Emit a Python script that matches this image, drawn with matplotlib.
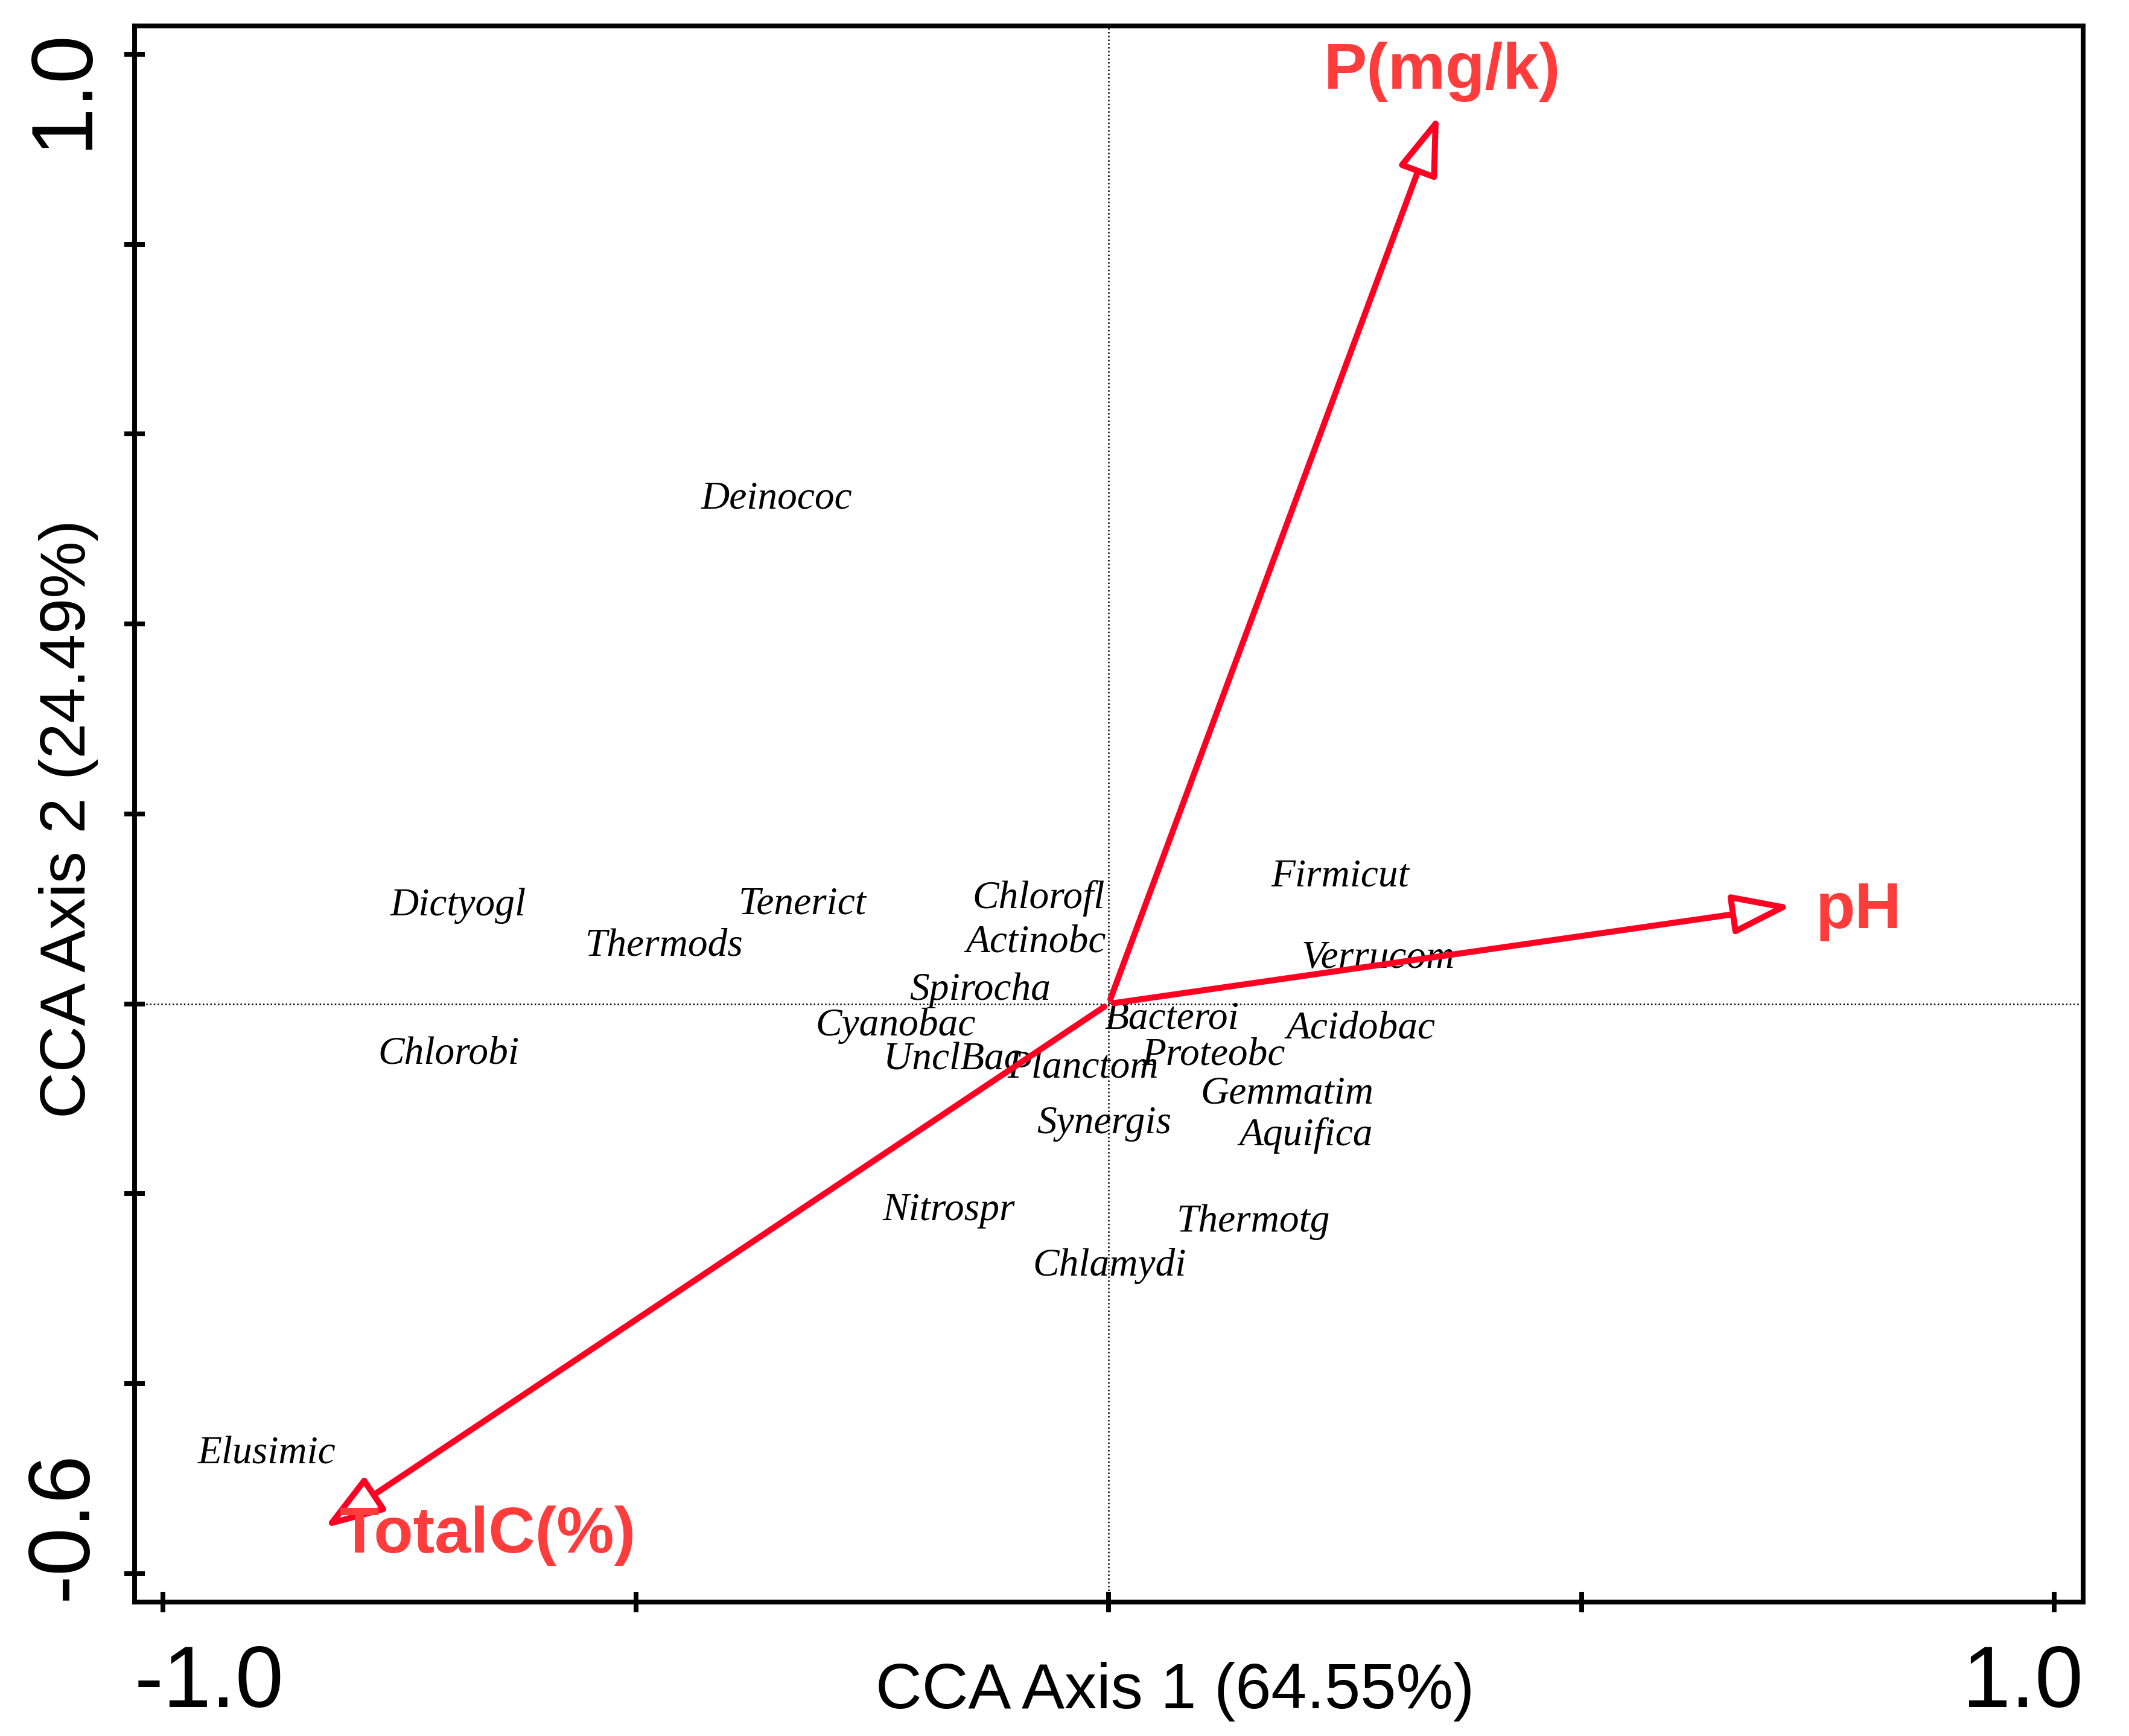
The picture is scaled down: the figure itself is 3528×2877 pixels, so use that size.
import matplotlib
matplotlib.use('Agg')
import matplotlib.pyplot as plt
from matplotlib.patches import FancyArrowPatch

# species (label positions, CCA axis 1 / axis 2)
species = ['Deinococ', 'Dictyogl', 'Tenerict', 'Thermods', 'Chlorofl', 'Actinobc',
           'Spirocha', 'Firmicut', 'Verrucom', 'Cyanobac', 'Bacteroi', 'Acidobac',
           'UnclBac', 'Planctom', 'Proteobc', 'Gemmatim', 'Synergis', 'Aquifica',
           'Nitrospr', 'Thermotg', 'Chlamydi', 'Chlorobi', 'Elusimic']
sp_x = [-0.351, -0.688, -0.324, -0.470, -0.074, -0.077,
        -0.136, 0.245, 0.285, -0.225, 0.067, 0.267,
        -0.165, -0.027, 0.111, 0.189, -0.005, 0.209,
        -0.169, 0.153, 0.001, -0.698, -0.890]
sp_y = [0.522, 0.093, 0.095, 0.051, 0.101, 0.055,
        0.004, 0.124, 0.038, -0.033, -0.026, -0.036,
        -0.069, -0.078, -0.064, -0.105, -0.136, -0.149,
        -0.228, -0.240, -0.286, -0.063, -0.484]

# environmental variables (arrow tips)
env = ['P(mg/k)', 'pH', 'TotalC(%)']
env_x = [0.351, 0.728, -0.834]
env_y = [0.941, 0.104, -0.555]

x_ticks = [-1.0, -0.5, 0.0, 0.5, 1.0]
y_ticks = [-0.6, -0.4, -0.2, 0.0, 0.2, 0.4, 0.6, 0.8, 1.0]

arrow_col = '#ff0022'
label_col = '#ff3c3c'

fig = plt.figure(figsize=(11.76, 9.59), dpi=300)
ax = fig.add_axes([0.0632, 0.0772, 0.9153, 0.9079])
ax.set_xlim(-1.030, 1.0306)
ax.set_ylim(-0.6299, 1.0299)

for s in ax.spines.values():
    s.set_linewidth(1.9)
ax.set_xticks(x_ticks)
ax.set_yticks(y_ticks)
ax.tick_params(direction='inout', length=8, width=1.9, labelbottom=False, labelleft=False)

# dotted zero lines
ax.axhline(0, color='black', lw=0.6, ls=(0, (1, 1.5)), zorder=1)
ax.axvline(0, color='black', lw=0.6, ls=(0, (1, 1.5)), zorder=1)

# species labels
for name, x, y in zip(species, sp_x, sp_y):
    ax.text(x, y, name, family='Liberation Serif', style='italic', fontsize=15.7,
            ha='center', va='baseline', zorder=3)

# arrows with open heads
for x, y in zip(env_x, env_y):
    arr = FancyArrowPatch((0, 0), (x, y),
                          arrowstyle='-|>,head_length=1.0,head_width=0.34',
                          mutation_scale=20, lw=2.4, edgecolor=arrow_col,
                          facecolor='white', joinstyle='round', capstyle='round',
                          zorder=4)
    ax.add_patch(arr)

# arrow labels
lab_pos = {'P(mg/k)': (0.002, 0.0226, 'center'),
           'pH': (0.020, -0.024, 'left'),
           'TotalC(%)': (0.021, -0.023, 'left')}
for name, x, y in zip(env, env_x, env_y):
    dx, dy, ha = lab_pos[name]
    ax.text(x + dx, y + dy, name, family='Liberation Sans', fontweight='bold',
            fontsize=25.7, color=label_col, ha=ha, va='baseline', zorder=5)

# tick labels and axis titles
tick_font = dict(family='Liberation Sans', fontsize=34.5)
ax.text(0.0, -0.0666, '-1.0', transform=ax.transAxes, ha='left', va='baseline', **tick_font)
ax.text(1.0, -0.0666, '1.0', transform=ax.transAxes, ha='right', va='baseline', **tick_font)
ax.text(-0.0248, 0.9985, '1.0', transform=ax.transAxes, rotation=90, rotation_mode='anchor',
        ha='right', va='baseline', **tick_font)
ax.text(-0.0248, 0.001, '-0.6', transform=ax.transAxes, rotation=90, rotation_mode='anchor',
        ha='left', va='baseline', **tick_font)

ax.text(0.534, -0.0675, 'CCA Axis 1 (64.55%)', transform=ax.transAxes,
        family='Liberation Sans', fontsize=25.5, ha='center', va='baseline')
ax.text(-0.0255, 0.497, 'CCA Axis 2 (24.49%)', transform=ax.transAxes,
        family='Liberation Sans', fontsize=25.5, rotation=90, rotation_mode='anchor',
        ha='center', va='baseline')

fig.savefig('out.png', dpi=300)
